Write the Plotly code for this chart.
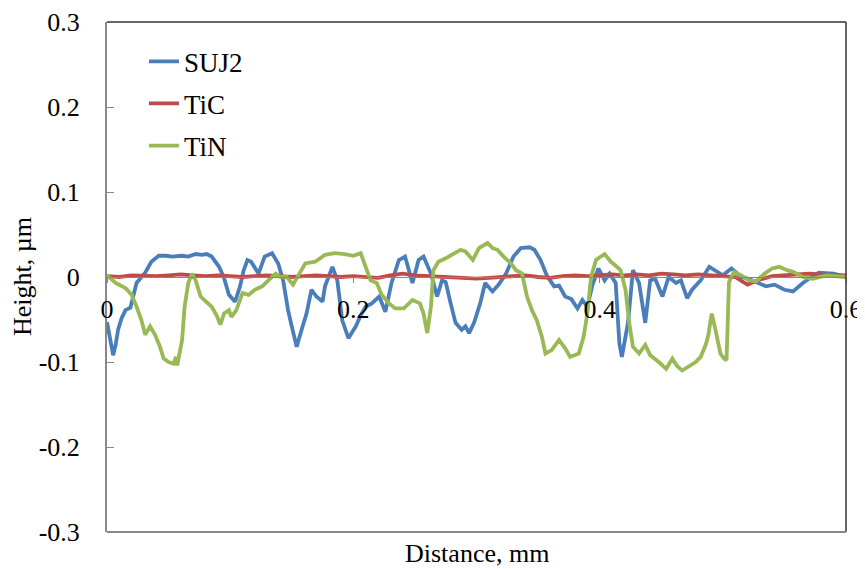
import plotly.graph_objects as go

# ---- data ----
suj2_x = [0.000, 0.003, 0.005, 0.007, 0.009, 0.012, 0.015, 0.019, 0.021, 0.024, 0.028, 0.031, 0.036, 0.042,
          0.048, 0.053, 0.061, 0.066, 0.072, 0.077, 0.081, 0.085, 0.091, 0.095, 0.099, 0.104, 0.108, 0.111,
          0.114, 0.117, 0.123, 0.128, 0.134, 0.139, 0.143, 0.147, 0.150, 0.154, 0.158, 0.162, 0.166, 0.170,
          0.175, 0.177, 0.183, 0.187, 0.191, 0.196, 0.202, 0.206, 0.210, 0.215, 0.221, 0.226, 0.231, 0.237,
          0.242, 0.248, 0.253, 0.257, 0.263, 0.268, 0.272, 0.275, 0.279, 0.283, 0.288, 0.291, 0.294, 0.298,
          0.303, 0.307, 0.313, 0.318, 0.324, 0.330, 0.336, 0.343, 0.347, 0.352, 0.357, 0.363, 0.367, 0.372,
          0.377, 0.382, 0.386, 0.390, 0.394, 0.399, 0.404, 0.408, 0.413, 0.416, 0.418, 0.421, 0.423, 0.427,
          0.432, 0.437, 0.441, 0.445, 0.451, 0.456, 0.462, 0.466, 0.471, 0.475, 0.482, 0.489, 0.494, 0.500,
          0.507, 0.515, 0.521, 0.528, 0.535, 0.542, 0.550, 0.557, 0.565, 0.572, 0.578, 0.590, 0.600]
suj2_y = [-0.053, -0.075, -0.092, -0.080, -0.062, -0.048, -0.039, -0.036, -0.023, -0.007, 0.000, 0.005, 0.018, 0.025,
          0.025, 0.024, 0.025, 0.024, 0.027, 0.026, 0.027, 0.024, 0.012, -0.001, -0.021, -0.029, -0.011, 0.008,
          0.020, 0.018, 0.004, 0.024, 0.028, 0.016, -0.004, -0.039, -0.058, -0.082, -0.062, -0.043, -0.015, -0.023,
          -0.029, -0.011, 0.012, -0.004, -0.051, -0.072, -0.058, -0.045, -0.035, -0.031, -0.023, -0.041, -0.007, 0.020,
          0.024, -0.007, 0.020, 0.024, 0.004, -0.023, -0.004, -0.006, -0.031, -0.054, -0.062, -0.058, -0.066, -0.054,
          -0.031, -0.007, -0.017, -0.009, 0.004, 0.024, 0.034, 0.035, 0.032, 0.020, 0.002, -0.011, -0.010, -0.023,
          -0.026, -0.037, -0.027, -0.035, -0.010, 0.010, -0.004, 0.004, -0.007, -0.078, -0.094, -0.070, -0.054, 0.008,
          -0.007, -0.054, -0.004, -0.002, -0.023, 0.000, -0.007, -0.004, -0.025, -0.015, -0.004, 0.012, 0.008, 0.002,
          0.010, 0.000, -0.002, -0.006, -0.011, -0.009, -0.015, -0.017, -0.007, 0.000, 0.005, 0.004, 0.000]

tic_x = [i / 100 for i in range(61)]
tic_y = [0.001, 0.000, 0.002, 0.001, 0.001, 0.002, 0.003, 0.002, 0.001, 0.002, 0.001, 0.000, 0.001, 0.002, 0.001,
         0.000, 0.001, 0.002, 0.001, 0.000, 0.001, 0.000, -0.001, 0.002, 0.004, 0.002, 0.001, 0.000, -0.001, -0.002,
         -0.002, -0.001, 0.000, 0.001, 0.002, 0.000, -0.001, 0.001, 0.002, 0.001, 0.002, 0.003, 0.002, 0.003, 0.002,
         0.004, 0.003, 0.002, 0.003, 0.002, 0.002, 0.000, -0.009, -0.003, 0.001, 0.002, 0.003, 0.004, 0.003, 0.003,
         0.002]

tin_x = [0.000, 0.007, 0.015, 0.020, 0.024, 0.028, 0.031, 0.035, 0.039, 0.043, 0.046, 0.050, 0.054, 0.056, 0.057,
         0.061, 0.063, 0.066, 0.069, 0.072, 0.076, 0.080, 0.085, 0.089, 0.092, 0.095, 0.099, 0.101, 0.105, 0.110,
         0.115, 0.120, 0.126, 0.131, 0.137, 0.141, 0.146, 0.151, 0.156, 0.161, 0.169, 0.177, 0.185, 0.193, 0.200,
         0.206, 0.210, 0.214, 0.219, 0.223, 0.229, 0.234, 0.241, 0.248, 0.254, 0.257, 0.260, 0.263, 0.265, 0.269,
         0.275, 0.283, 0.287, 0.291, 0.297, 0.302, 0.309, 0.313, 0.317, 0.322, 0.328, 0.332, 0.337, 0.341, 0.345,
         0.349, 0.353, 0.356, 0.361, 0.367, 0.372, 0.376, 0.383, 0.387, 0.390, 0.393, 0.397, 0.404, 0.409, 0.414,
         0.417, 0.421, 0.424, 0.427, 0.432, 0.437, 0.441, 0.448, 0.454, 0.459, 0.463, 0.467, 0.473, 0.478, 0.482,
         0.486, 0.488, 0.491, 0.494, 0.498, 0.501, 0.503, 0.505, 0.509, 0.515, 0.521, 0.527, 0.534, 0.540, 0.546,
         0.552, 0.557, 0.565, 0.573, 0.584, 0.592, 0.600]
tin_y = [0.002, -0.007, -0.013, -0.021, -0.035, -0.051, -0.068, -0.058, -0.068, -0.082, -0.096, -0.100, -0.102, -0.094, -0.104,
         -0.074, -0.035, -0.007, 0.004, -0.004, -0.023, -0.029, -0.035, -0.045, -0.056, -0.043, -0.039, -0.047, -0.039, -0.019,
         -0.021, -0.015, -0.011, -0.004, 0.004, 0.000, 0.000, -0.009, 0.004, 0.016, 0.018, 0.026, 0.028, 0.027, 0.025,
         0.028, 0.012, -0.004, -0.007, -0.021, -0.031, -0.037, -0.037, -0.027, -0.031, -0.043, -0.066, -0.035, 0.008, 0.018,
         0.022, 0.028, 0.032, 0.030, 0.020, 0.034, 0.040, 0.034, 0.032, 0.024, 0.016, 0.008, 0.004, -0.023, -0.039,
         -0.051, -0.070, -0.090, -0.086, -0.074, -0.084, -0.094, -0.090, -0.070, -0.043, 0.000, 0.020, 0.027, 0.018, 0.012,
         0.008, -0.015, -0.054, -0.082, -0.090, -0.080, -0.092, -0.100, -0.108, -0.096, -0.105, -0.110, -0.104, -0.100, -0.094,
         -0.080, -0.070, -0.043, -0.062, -0.090, -0.096, -0.098, -0.006, 0.006, 0.002, -0.004, -0.005, 0.004, 0.010, 0.012,
         0.008, 0.006, 0.000, -0.002, 0.002, 0.001, 0.000]

series_names = ["SUJ2", "TiC", "TiN"]
colors = ["#4a7ebb", "#be4b48", "#98b954"]

y_ticks = [-0.3, -0.2, -0.1, 0, 0.1, 0.2, 0.3]
y_tick_labels = ["-0.3", "-0.2", "-0.1", "0", "0.1", "0.2", "0.3"]
x_ticks = [0, 0.2, 0.4, 0.6]
x_tick_labels = ["0", "0.2", "0.4", "0.6"]

FONT = "Liberation Serif, Times New Roman, serif"

fig = go.Figure()
for name, xs, ys, col in zip(series_names, [suj2_x, tic_x, tin_x], [suj2_y, tic_y, tin_y], colors):
    fig.add_trace(go.Scatter(x=xs, y=ys, mode="lines", name=name, legendgroup=name,
                             line=dict(color=col, width=3.8)))

fig.update_layout(
    width=865, height=569,
    margin=dict(l=99, r=27, t=14, b=45, autoexpand=False),
    paper_bgcolor="white", plot_bgcolor="white",
    font=dict(family=FONT, size=26, color="black"),
    showlegend=True,
    legend=dict(x=0.05, y=0.97, xanchor="left", yanchor="top",
                font=dict(family=FONT, size=27), tracegroupgap=4,
                bgcolor="rgba(0,0,0,0)", itemwidth=30),
    xaxis=dict(range=[0, 0.6], tickvals=x_ticks, ticktext=x_tick_labels,
               anchor="free", position=0.5, showgrid=False, zeroline=False,
               showline=True, linecolor="#888888", linewidth=1,
               ticks="outside", ticklen=5, tickcolor="#888888", automargin=False,
               ticklabelstandoff=4, tickfont=dict(family=FONT, size=26)),
    yaxis=dict(range=[-0.3, 0.3], tickvals=y_ticks, ticktext=y_tick_labels,
               domain=[0, 1], showgrid=False, zeroline=False, automargin=False,
               showline=True, linecolor="#888888", linewidth=2,
               ticks="inside", ticklen=7, tickcolor="#888888",
               ticklabelstandoff=20, tickfont=dict(family=FONT, size=26)),
)

# plot-area border
fig.add_shape(type="line", xref="paper", yref="paper", x0=0, x1=1, y0=1, y1=1,
              line=dict(color="#333333", width=1.5))
fig.add_shape(type="line", xref="paper", yref="paper", x0=1, x1=1, y0=0, y1=1,
              line=dict(color="#333333", width=1.5))
fig.add_shape(type="line", xref="paper", yref="paper", x0=0, x1=1, y0=0, y1=0,
              line=dict(color="#888888", width=2))

fig.add_annotation(text="Distance, mm", xref="paper", yref="paper", x=0.5, y=0,
                   yshift=-21, xanchor="center", yanchor="middle", showarrow=False,
                   font=dict(family=FONT, size=26))
fig.add_annotation(text="Height, µm", xref="paper", yref="paper", x=0, y=0.5,
                   xshift=-85, textangle=-90, xanchor="center", yanchor="middle",
                   showarrow=False, font=dict(family=FONT, size=26))

fig.write_html("out.html")
